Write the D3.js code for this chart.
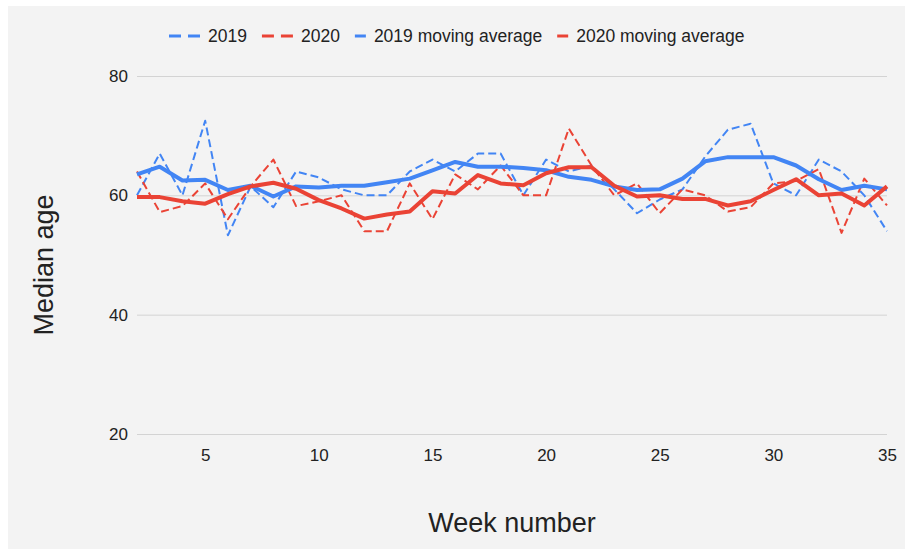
<!DOCTYPE html>
<html>
<head>
<meta charset="utf-8">
<script src="https://cdn.jsdelivr.net/npm/d3@7"></script>
<style>
  body { margin: 0; background: #fff; }
  text { font-family: Arial, 'Liberation Sans', sans-serif; fill: #222; }
</style>
</head>
<body>
<div id="main"></div>
<script>
// Sizes
var svgWidth = 905;
var svgHeight = 549;
var plot = {l: 137, r: 887, t: 76, b: 434};

// Data
var weeks = [2, 3, 4, 5, 6, 7, 8, 9, 10, 11, 12, 13, 14, 15, 16, 17, 18,
             19, 20, 21, 22, 23, 24, 25, 26, 27, 28, 29, 30, 31, 32, 33, 34, 35];
var age2019 = [60, 67, 60, 72.5, 53.3, 61.5, 58, 64, 63, 61, 60, 60, 64, 66, 64, 67, 67,
               60, 66, 64, 65, 61, 57, 59.3, 61, 66.5, 71, 72, 62, 60, 66, 64, 60, 54];
var age2020 = [64, 57.2, 58.2, 62, 56, 61.5, 66, 58.2, 59, 60, 54, 54, 62, 56, 63.5, 61, 65,
               60, 60, 71.2, 65, 60, 62, 57, 61, 60, 57.3, 58, 62, 62.4, 64.4, 53.7, 62.8, 58.3];
var avg2019 = [63.5, 64.8, 62.5, 62.6, 60.9, 61.6, 59.8, 61.5, 61.3, 61.6, 61.6, 62.2, 62.8, 64.2, 65.6, 64.8, 64.8,
               64.6, 64.2, 63.1, 62.6, 61.5, 60.9, 61, 62.8, 65.7, 66.4, 66.4, 66.4, 65, 62.7, 60.9, 61.6, 61];
var avg2020 = [59.7, 59.7, 59.0, 58.6, 60.2, 61.5, 62.1, 61.1, 59.2, 57.8, 56.1, 56.8, 57.3, 60.7, 60.3, 63.4, 62,
               61.7, 63.7, 64.7, 64.7, 61.6, 59.8, 60, 59.4, 59.4, 58.3, 59, 60.9, 62.7, 60, 60.3, 58.3, 61.5];

var yTicks = [20, 40, 60, 80];
var xTicks = [5, 10, 15, 20, 25, 30, 35];

var seriesNames = ['2019', '2020', '2019 moving average', '2020 moving average'];
var seriesColors = ['#4285f4', '#ea4335', '#4285f4', '#ea4335'];
var seriesDashed = [true, true, false, false];
var seriesValues = [age2019, age2020, avg2019, avg2020];

var svg = d3.select('#main')
	.append('svg')
	.attr('width', svgWidth)
	.attr('height', svgHeight);

// gray panel
svg.append('rect')
	.attr('x', 8)
	.attr('y', 6)
	.attr('width', svgWidth - 8)
	.attr('height', svgHeight - 6)
	.attr('fill', '#f3f3f3');

var xScale = d3.scaleLinear().domain([2, 35]).range([plot.l, plot.r]);
var yScale = d3.scaleLinear().domain([20, 80]).range([plot.b, plot.t]);

// gridlines + y labels
var yAxis = d3.axisLeft(yScale)
	.tickValues(yTicks)
	.tickSize(-(plot.r - plot.l))
	.tickPadding(9);

svg.append('g')
	.attr('class', 'y axis')
	.attr('transform', `translate(${plot.l}, 0)`)
	.call(yAxis)
	.call(function(g) {
		g.select('.domain').remove();
		g.selectAll('.tick line').attr('stroke', '#d3d3d3').attr('stroke-width', 1);
		g.selectAll('.tick text')
			.attr('font-size', 17)
			.attr('fill', '#222')
			.attr('font-family', "Arial, 'Liberation Sans', sans-serif");
	});

// x labels
var xAxis = d3.axisBottom(xScale)
	.tickValues(xTicks)
	.tickSize(0)
	.tickPadding(15);

svg.append('g')
	.attr('class', 'x axis')
	.attr('transform', `translate(0, ${plot.b})`)
	.call(xAxis)
	.call(function(g) {
		g.select('.domain').remove();
		g.selectAll('.tick text')
			.attr('font-size', 17)
			.attr('fill', '#222')
			.attr('font-family', "Arial, 'Liberation Sans', sans-serif");
	});

// lines
var line = d3.line()
	.x(function(d, i) { return xScale(weeks[i]); })
	.y(function(d) { return yScale(d); });

svg.selectAll('.series')
	.data(seriesValues)
	.enter()
	.append('path')
	.attr('class', 'series')
	.attr('d', line)
	.attr('fill', 'none')
	.attr('stroke', function(d, i) { return seriesColors[i]; })
	.attr('stroke-width', function(d, i) { return seriesDashed[i] ? 2 : 4; })
	.attr('stroke-dasharray', function(d, i) { return seriesDashed[i] ? '8,4' : null; })
	.attr('stroke-linejoin', 'round');

// axis titles
svg.append('text')
	.text('Week number')
	.attr('x', (plot.l + plot.r) / 2)
	.attr('y', 532)
	.attr('text-anchor', 'middle')
	.attr('font-size', 27);

svg.append('text')
	.text('Median age')
	.attr('transform', 'translate(53, 265) rotate(-90)')
	.attr('text-anchor', 'middle')
	.attr('font-size', 27);

// legend
var legendY = 36;
var lx = 169;
seriesNames.forEach(function(name, i) {
	var g = svg.append('g').attr('class', 'legend-item');
	var symW = seriesDashed[i] ? 31 : 11;
	g.append('line')
		.attr('x1', lx)
		.attr('x2', lx + symW)
		.attr('y1', legendY)
		.attr('y2', legendY)
		.attr('stroke', seriesColors[i])
		.attr('stroke-width', 3)
		.attr('stroke-dasharray', seriesDashed[i] ? '12,7' : null);
	var t = g.append('text')
		.text(name)
		.attr('x', lx + symW + 8)
		.attr('y', legendY + 6)
		.attr('font-size', 17.5);
	lx = lx + symW + 8 + t.node().getComputedTextLength() + 15;
});
</script>
</body>
</html>
